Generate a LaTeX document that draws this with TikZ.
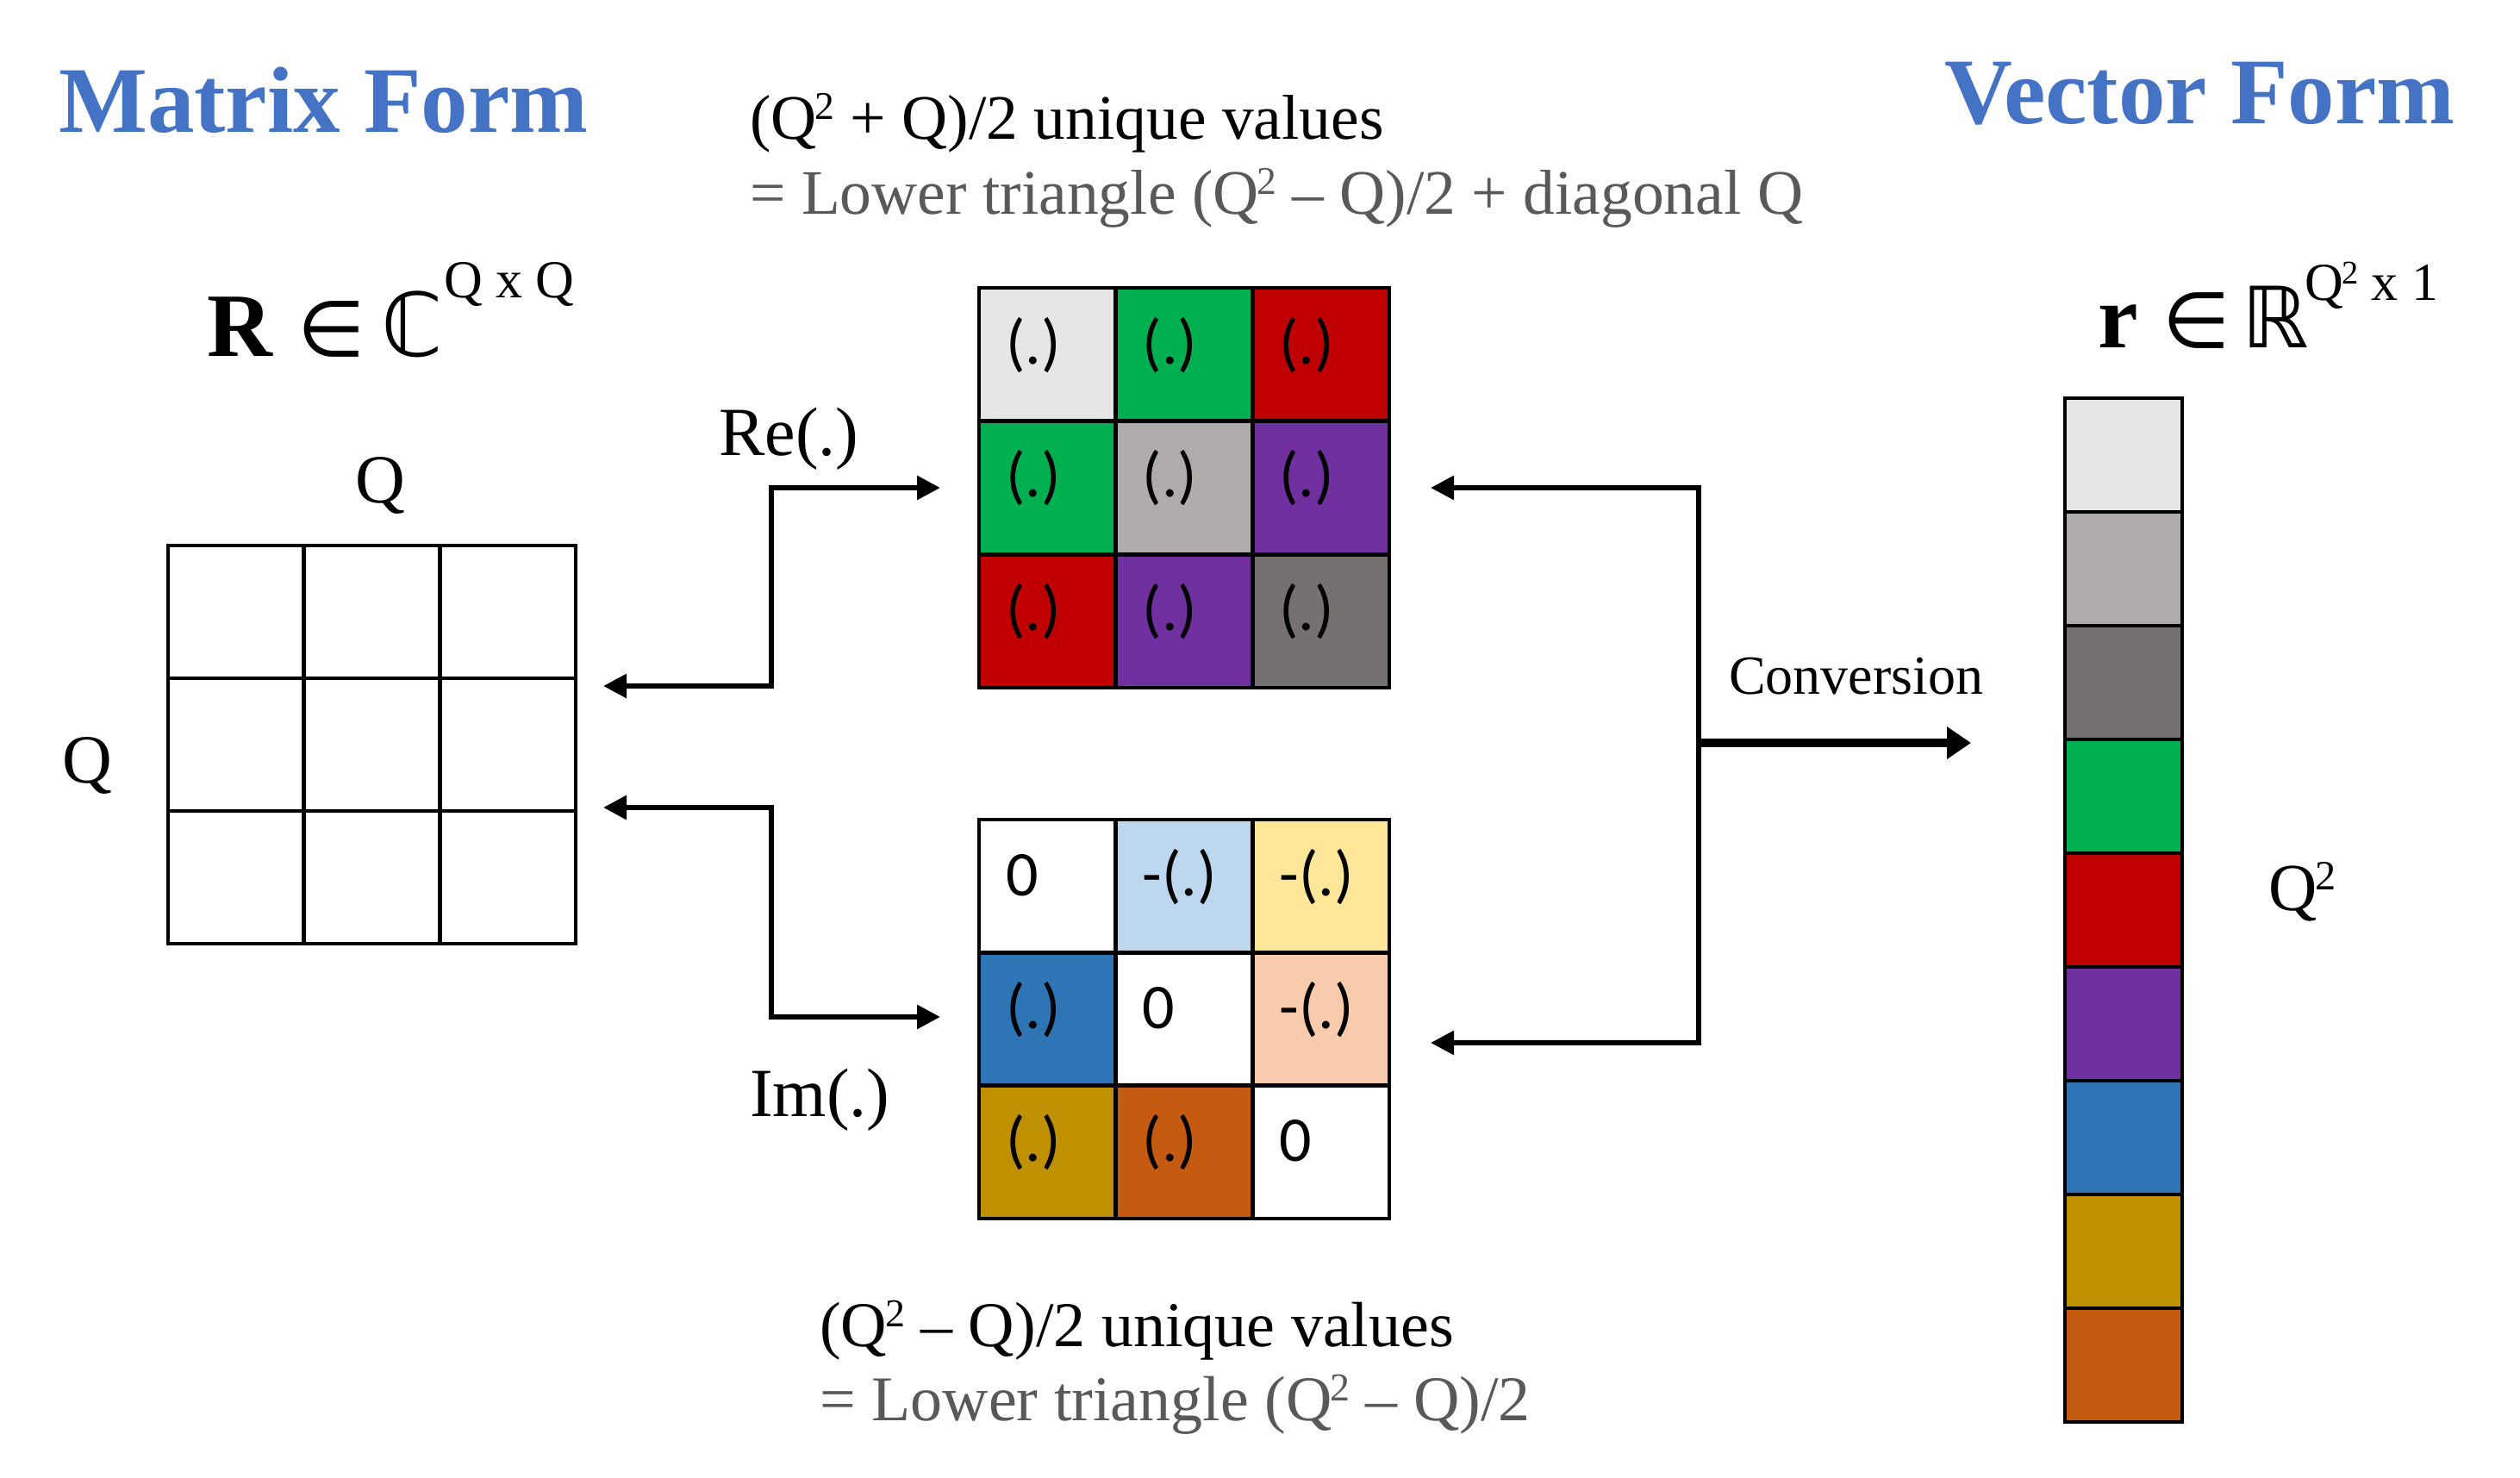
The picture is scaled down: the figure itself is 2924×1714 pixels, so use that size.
\documentclass[tikz,border=0pt]{standalone}
\usepackage{fontspec}
\usepackage{graphicx}
\setmainfont{Liberation Serif}
\newfontfamily\cellfont{Carlito}
\newfontfamily\symfont{DejaVu Sans}
\usetikzlibrary{arrows.meta,calc}
\definecolor{cLG}{HTML}{E6E6E6}
\definecolor{cMG}{HTML}{AFABAB}
\definecolor{cDG}{HTML}{767171}
\definecolor{cGR}{HTML}{00B050}
\definecolor{cRD}{HTML}{C00000}
\definecolor{cPU}{HTML}{7030A0}
\definecolor{cBL}{HTML}{2E75B6}
\definecolor{cGO}{HTML}{BF9000}
\definecolor{cOR}{HTML}{C55A11}
\definecolor{cLB}{HTML}{BDD7EE}
\definecolor{cLY}{HTML}{FFE699}
\definecolor{cPE}{HTML}{F8CBAD}
\definecolor{cTitle}{HTML}{4472C4}
\definecolor{cGrayText}{HTML}{595959}
\newcommand{\fs}[1]{\fontsize{#1}{#1}\selectfont}
\newcommand{\sqtwo}{\kern-0.03em\raisebox{0.3em}{\scalebox{0.62}{2}}}
\newcommand{\colcell}[6]{% name, x, y, w, h, color
  \node[cellbox, minimum width=#4pt, minimum height=#5pt, fill=#6] (#1) at (#2,#3) {};}
\newcommand{\celltext}[2]{%
  \node[celltxt] (#1t) at ($(#1.north west)+(31,88)$) {#2};}
\begin{document}
\begin{tikzpicture}[x=1pt,y=-1pt,
  cellbox/.style={draw=black, line width=4.5pt, inner sep=0, outer sep=0, anchor=north west},
  celltxt/.style={inner sep=0, anchor=base west, font=\cellfont\fs{74}},
  txt/.style={inner sep=0, anchor=base west},
  conn/.style={line width=6pt, {Triangle[length=27pt,width=27pt]}-{Triangle[length=27pt,width=27pt]}},
  bigarrow/.style={line width=9.5pt, -{Triangle[length=28pt,width=36pt]}}]
\useasboundingbox (0,0) rectangle (2924,1714);

% titles
\node[txt, font=\bfseries\fs{109}, text=cTitle] (mtitle) at (68,153) {Matrix Form};
\node[txt, font=\bfseries\fs{109}, text=cTitle] (vtitle) at (2256,143) {Vector Form};

% R in C^{QxQ}
\node[txt, font=\bfseries\fs{105}] (Rsym) at (240,413) {R};
\node[txt, font=\symfont\fs{90}] (Rin) at (345,413) {∈};
\node[txt, font=\symfont\fs{102}] (Cset) at (442,413) {ℂ};
\node[txt, font=\fs{62}] (Rsup) at (515,345) {Q x Q};

% r in R^{Q^2 x 1}
\node[txt, font=\bfseries\fs{105}] (rsym) at (2434,403) {r};
\node[txt, font=\symfont\fs{90}] (rin) at (2509,403) {∈};
\node[txt, font=\symfont\fs{98}] (Rset) at (2601,403) {ℝ};
\node[txt, font=\fs{62}] (rsup) at (2674,348) {Q\sqtwo\ x 1};

% top / bottom descriptions
\node[txt, font=\fs{73.5}] (topA) at (870,161) {(Q\sqtwo\ + Q)/2 unique values};
\node[txt, font=\fs{73.5}, text=cGrayText] (topB) at (870,248) {= Lower triangle (Q\sqtwo\ – Q)/2 + diagonal Q};
\node[txt, font=\fs{74}] (botA) at (951,1562) {(Q\sqtwo\ – Q)/2 unique values};
\node[txt, font=\fs{74}, text=cGrayText] (botB) at (951,1648) {= Lower triangle (Q\sqtwo\ – Q)/2};

% labels
\node[txt, font=\fs{80}] (QTop) at (412,583) {Q};
\node[txt, font=\fs{80}] (QLeft) at (72,908) {Q};
\node[txt, font=\fs{78}] (QVec) at (2632,1056) {Q\sqtwo};
\node[txt, font=\fs{80}] (relab) at (834,528) {Re(.)};
\node[txt, font=\fs{80}] (imlab) at (870,1295) {Im(.)};
\node[txt, font=\fs{64}] (convlab) at (2006,805) {Conversion};

% left matrix
\colcell{L11}{195}{633}{157.7}{154}{white}
\colcell{L12}{352.7}{633}{157.7}{154}{white}
\colcell{L13}{510.3}{633}{157.7}{154}{white}
\colcell{L21}{195}{787}{157.7}{154}{white}
\colcell{L22}{352.7}{787}{157.7}{154}{white}
\colcell{L23}{510.3}{787}{157.7}{154}{white}
\colcell{L31}{195}{941}{157.7}{154}{white}
\colcell{L32}{352.7}{941}{157.7}{154}{white}
\colcell{L33}{510.3}{941}{157.7}{154}{white}

% Re matrix
\colcell{re11}{1136}{334}{158.7}{154.7}{cLG}
\colcell{re12}{1294.7}{334}{158.7}{154.7}{cGR}
\colcell{re13}{1453.3}{334}{158.7}{154.7}{cRD}
\colcell{re21}{1136}{488.7}{158.7}{154.7}{cGR}
\colcell{re22}{1294.7}{488.7}{158.7}{154.7}{cMG}
\colcell{re23}{1453.3}{488.7}{158.7}{154.7}{cPU}
\colcell{re31}{1136}{643.3}{158.7}{154.7}{cRD}
\colcell{re32}{1294.7}{643.3}{158.7}{154.7}{cPU}
\colcell{re33}{1453.3}{643.3}{158.7}{154.7}{cDG}
\celltext{re11}{(.)}\celltext{re12}{(.)}\celltext{re13}{(.)}
\celltext{re21}{(.)}\celltext{re22}{(.)}\celltext{re23}{(.)}
\celltext{re31}{(.)}\celltext{re32}{(.)}\celltext{re33}{(.)}

% Im matrix
\colcell{im11}{1136}{951}{158.7}{154.3}{white}
\colcell{im12}{1294.7}{951}{158.7}{154.3}{cLB}
\colcell{im13}{1453.3}{951}{158.7}{154.3}{cLY}
\colcell{im21}{1136}{1105.3}{158.7}{154.3}{cBL}
\colcell{im22}{1294.7}{1105.3}{158.7}{154.3}{white}
\colcell{im23}{1453.3}{1105.3}{158.7}{154.3}{cPE}
\colcell{im31}{1136}{1259.7}{158.7}{154.3}{cGO}
\colcell{im32}{1294.7}{1259.7}{158.7}{154.3}{cOR}
\colcell{im33}{1453.3}{1259.7}{158.7}{154.3}{white}
\celltext{im11}{0}\celltext{im12}{-(.)}\celltext{im13}{-(.)}
\celltext{im21}{(.)}\celltext{im22}{0}\celltext{im23}{-(.)}
\celltext{im31}{(.)}\celltext{im32}{(.)}\celltext{im33}{0}

% vector
\colcell{v1}{2396}{462}{136}{132}{cLG}
\colcell{v2}{2396}{594}{136}{132}{cMG}
\colcell{v3}{2396}{726}{136}{132}{cDG}
\colcell{v4}{2396}{858}{136}{132}{cGR}
\colcell{v5}{2396}{990}{136}{132}{cRD}
\colcell{v6}{2396}{1122}{136}{132}{cPU}
\colcell{v7}{2396}{1254}{136}{132}{cBL}
\colcell{v8}{2396}{1386}{136}{132}{cGO}
\colcell{v9}{2396}{1518}{136}{132}{cOR}

% connector points
\coordinate (reA) at (700,796);
\coordinate (reB) at (895,566);
\coordinate (reC) at (1091,566);
\coordinate (imA) at (700,937);
\coordinate (imB) at (895,1180);
\coordinate (imC) at (1091,1180);
\coordinate (reR) at (1660,566);
\coordinate (cv1) at (1971,566);
\coordinate (cv2) at (1971,1210);
\coordinate (imR) at (1660,1210);
\coordinate (cv3) at (1971,862);
\coordinate (cv4) at (2287,862);

\draw[conn] (reA) -| (reB) -- (reC);
\draw[conn] (imA) -| (imB) -- (imC);
\draw[conn] (reR) -- (cv1) -- (cv2) -- (imR);
\draw[bigarrow] (cv3) -- (cv4);
\end{tikzpicture}
\end{document}
